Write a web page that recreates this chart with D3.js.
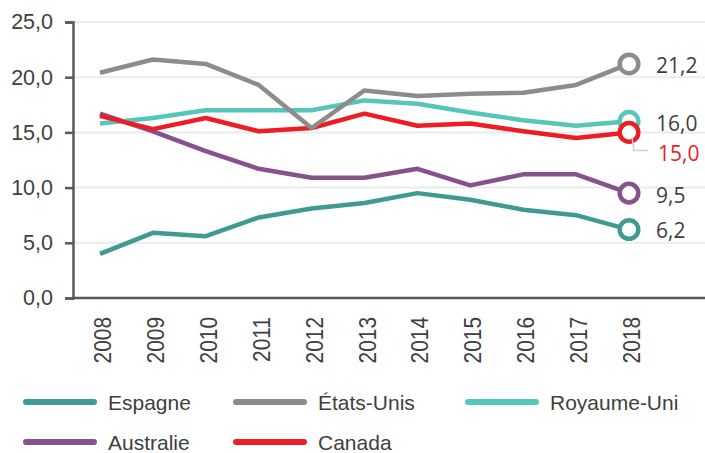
<!DOCTYPE html>
<meta charset="utf-8">
<head>
  <script src="https://cdn.jsdelivr.net/npm/d3@7"></script>
  <style>
    body { margin: 0; background: #fff; }
    .grid line { stroke: #ebebeb; stroke-width: 2px; }
  </style>
</head>
<body>
<svg id="chart" width="705" height="453"></svg>
<script>
  var years = ["2008","2009","2010","2011","2012","2013","2014","2015","2016","2017","2018"];
  var yTicks = [0, 5, 10, 15, 20, 25];

  var espagne    = [4.0, 5.9, 5.6, 7.3, 8.1, 8.6, 9.5, 8.9, 8.0, 7.5, 6.2];
  var etatsUnis  = [20.4, 21.6, 21.2, 19.3, 15.4, 18.8, 18.3, 18.5, 18.6, 19.3, 21.2];
  var royaumeUni = [15.8, 16.3, 17.0, 17.0, 17.0, 17.9, 17.6, 16.8, 16.1, 15.6, 16.0];
  var australie  = [16.7, 15.1, 13.3, 11.7, 10.9, 10.9, 11.7, 10.2, 11.2, 11.2, 9.5];
  var canada     = [16.5, 15.3, 16.3, 15.1, 15.4, 16.7, 15.6, 15.8, 15.1, 14.5, 15.0];

  var seriesNames = ["Espagne", "États-Unis", "Royaume-Uni", "Australie", "Canada"];
  var seriesColors = ["#3f9a91", "#8c8c8c", "#55c6ba", "#85528c", "#ee1c25"];
  var seriesValues = [espagne, etatsUnis, royaumeUni, australie, canada];

  var series = seriesNames.map(function(n, i) {
    return { name: n, color: seriesColors[i], values: seriesValues[i] };
  });

  var svg = d3.select("#chart");
  var plotLeft = 73, plotRight = 705, plotTop = 22, plotBottom = 298;

  var x = d3.scalePoint().domain(years).range([100, 629]);
  var y = d3.scaleLinear().domain([0, 25]).range([plotBottom, plotTop]);
  var fmt = function(v) { return d3.format(".1f")(v).replace(".", ","); };

  // gridlines
  svg.append("g").attr("class", "grid")
    .selectAll("line").data(yTicks.slice(1)).enter().append("line")
    .attr("x1", plotLeft).attr("x2", plotRight)
    .attr("y1", function(d) { return y(d); })
    .attr("y2", function(d) { return y(d); });

  // y axis
  var yAxis = svg.append("g")
    .attr("transform", "translate(" + plotLeft + ",0)")
    .call(d3.axisLeft(y).tickValues(yTicks).tickFormat(fmt).tickSize(8).tickPadding(12));
  yAxis.select(".domain").attr("stroke", "#595959").attr("stroke-width", 2.5);
  yAxis.selectAll(".tick line").attr("stroke", "#595959").attr("stroke-width", 2.5);
  yAxis.selectAll("text")
    .style("font-family", "Liberation Sans, Arial")
    .style("font-size", "21.5px")
    .style("fill", "#404040");

  // x axis line
  svg.append("line")
    .attr("x1", plotLeft - 1).attr("x2", plotRight)
    .attr("y1", plotBottom).attr("y2", plotBottom)
    .attr("stroke", "#595959").attr("stroke-width", 2.5);

  // x tick labels (narrow, rotated)
  svg.append("g")
    .selectAll("text").data(years).enter().append("text")
    .attr("transform", function(d) { return "translate(" + (x(d) + 11) + ",317) rotate(-90) scale(0.87,1)"; })
    .attr("text-anchor", "end")
    .style("font-family", "Liberation Sans, Arial")
    .style("font-size", "24px")
    .style("fill", "#404040")
    .text(function(d) { return d; });

  var line = d3.line()
    .x(function(d, i) { return x(years[i]); })
    .y(function(d) { return y(d); });

  var drawOrder = [0, 3, 2, 4, 1];
  drawOrder.forEach(function(i) {
    var s = series[i];
    svg.append("path")
      .attr("d", line(s.values))
      .attr("fill", "none")
      .attr("stroke", s.color)
      .attr("stroke-width", 4.5)
      .attr("stroke-linejoin", "round");
  });

  // end markers
  var last = years.length - 1;
  drawOrder.forEach(function(i) {
    var s = series[i];
    svg.append("circle")
      .attr("cx", x(years[last]))
      .attr("cy", y(s.values[last]))
      .attr("r", 9.3)
      .attr("fill", "#fff")
      .attr("stroke", s.color)
      .attr("stroke-width", 4.5);
  });

  // leader line for Canada label
  var cx = x(years[last]), cy = y(canada[last]);
  svg.append("path")
    .attr("d", "M" + (cx + 3) + "," + (cy + 5) + " L" + (cx + 5) + "," + (cy + 18) + " L" + (cx + 19) + "," + (cy + 18))
    .attr("fill", "none").attr("stroke", "#d0d0d0").attr("stroke-width", 1.5);

  // end labels
  var labelOffsets = { "Espagne": 0.5, "États-Unis": 1, "Royaume-Uni": 2, "Australie": 2, "Canada": 21 };
  series.forEach(function(s) {
    svg.append("text")
      .attr("x", s.name === "Canada" ? 658 : 656)
      .attr("y", y(s.values[last]) + labelOffsets[s.name])
      .attr("dy", "0.36em")
      .style("font-family", "Open Sans, Liberation Sans")
      .style("font-size", "21px")
      .style("fill", s.name === "Canada" ? "#ee1c25" : "#404040")
      .text(fmt(s.values[last]));
  });

  // legend
  var legendPos = [[23, 402], [233, 402], [465, 402], [23, 442], [233, 442]];
  series.forEach(function(s, i) {
    var g = svg.append("g").attr("transform", "translate(" + legendPos[i][0] + "," + legendPos[i][1] + ")");
    g.append("line")
      .attr("x1", 3).attr("x2", 71)
      .attr("stroke", s.color).attr("stroke-width", 6).attr("stroke-linecap", "round");
    g.append("text")
      .attr("x", 85).attr("dy", "0.36em")
      .style("font-family", "Liberation Sans, Arial")
      .style("font-size", "21px")
      .style("fill", "#404040")
      .text(s.name);
  });
</script>
</body>
